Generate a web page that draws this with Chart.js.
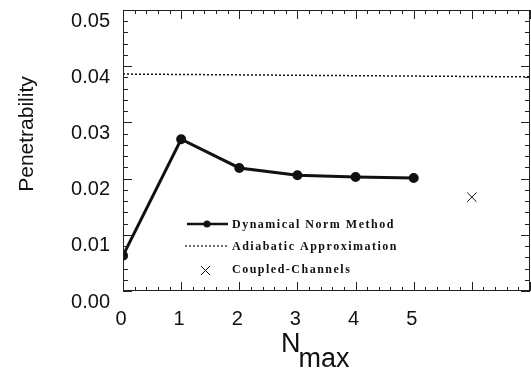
<!DOCTYPE html>
<html>
<head>
<meta charset="utf-8">
<script src="https://cdn.jsdelivr.net/npm/chart.js@4.4.0/dist/chart.umd.min.js"></script>
<style>
    html, body { margin: 0; padding: 0; background: #fff; }
    #wrap { width: 531px; height: 371px; }
</style>
</head>
<body>
<div id="wrap"><canvas id="chart1" width="531" height="371"></canvas></div>
<script>
// values
const nmax = [0, 1, 2, 3, 4, 5];
const dynamicalNorm = [0.0063, 0.0270, 0.0219, 0.0206, 0.0203, 0.0201];
const adiabaticX = [0, 7];
const adiabatic = [0.0386, 0.0381];
const coupledX = [6];
const coupled = [0.0167];
const xTickLabels = ['0', '1', '2', '3', '4', '5'];
const legendLabels = ['Dynamical Norm Method', 'Adiabatic Approximation', 'Coupled-Channels'];

const toPoints = (xs, ys) => xs.map((x, i) => ({ x: x, y: ys[i] }));

// no extra margin for edge labels, the plot box is fixed
function noPadding(scale) {
    scale.paddingTop = 0;
    scale.paddingBottom = 0;
    scale.paddingLeft = 0;
    scale.paddingRight = 0;
}

// inward minor/major ticks on all four sides plus the frame
const frameTicks = {
    id: 'frameTicks',
    afterDraw(chart) {
        const ctx = chart.ctx;
        const area = chart.chartArea;
        const xs = chart.scales.x;
        const ys = chart.scales.y;
        ctx.save();
        ctx.strokeStyle = '#222';
        ctx.lineWidth = 1;
        ctx.strokeRect(area.left + 0.5, area.top + 0.5, area.right - area.left - 1, area.bottom - area.top - 1);
        ctx.beginPath();
        for (let i = 0; i <= 35; i++) {
            const px = Math.round(xs.getPixelForValue(i * 0.2)) + 0.5;
            const len = i % 5 === 0 ? 9 : 4;
            ctx.moveTo(px, area.bottom);
            ctx.lineTo(px, area.bottom - len);
            ctx.moveTo(px, area.top);
            ctx.lineTo(px, area.top + len);
        }
        for (let i = 0; i <= 25; i++) {
            const py = Math.round(ys.getPixelForValue(i * 0.002)) + 0.5;
            const len = i % 5 === 0 ? 9 : 5;
            ctx.moveTo(area.left, py);
            ctx.lineTo(area.left + len, py);
            ctx.moveTo(area.right, py);
            ctx.lineTo(area.right - len, py);
        }
        ctx.stroke();
        ctx.restore();
    }
};

// legend inside the plot and axis titles
const labelsPlugin = {
    id: 'labelsPlugin',
    afterDraw(chart) {
        const ctx = chart.ctx;
        ctx.save();
        ctx.fillStyle = '#111';
        ctx.strokeStyle = '#111';

        // legend
        ctx.font = 'bold 12px "Liberation Serif"';
        ctx.letterSpacing = '1.5px';
        ctx.textBaseline = 'middle';
        ctx.textAlign = 'left';

        ctx.lineWidth = 2.5;
        ctx.beginPath();
        ctx.moveTo(187, 224);
        ctx.lineTo(228, 224);
        ctx.stroke();
        ctx.beginPath();
        ctx.arc(207, 224, 3.5, 0, Math.PI * 2);
        ctx.fill();
        ctx.fillText(legendLabels[0], 232, 225);

        ctx.lineWidth = 1.2;
        ctx.setLineDash([2, 2]);
        ctx.beginPath();
        ctx.moveTo(185, 246);
        ctx.lineTo(228, 246);
        ctx.stroke();
        ctx.setLineDash([]);
        ctx.fillText(legendLabels[1], 232, 247);

        ctx.lineWidth = 1;
        ctx.beginPath();
        ctx.moveTo(201, 266);
        ctx.lineTo(210, 275);
        ctx.moveTo(210, 266);
        ctx.lineTo(201, 275);
        ctx.stroke();
        ctx.fillText(legendLabels[2], 232, 270);

        // y title
        ctx.letterSpacing = '0px';
        ctx.font = '21px "Liberation Sans"';
        ctx.textBaseline = 'alphabetic';
        ctx.textAlign = 'center';
        ctx.save();
        ctx.translate(33, 134);
        ctx.rotate(-Math.PI / 2);
        ctx.fillText('Penetrability', 0, 0);
        ctx.restore();

        // x title N_max
        ctx.textAlign = 'left';
        ctx.font = '27px "Liberation Sans"';
        ctx.fillText('N', 281, 352);
        const nw = ctx.measureText('N').width;
        ctx.fillText('max', 281 + nw - 2, 367);
        ctx.restore();
    }
};

const ctx = document.getElementById('chart1').getContext('2d');
new Chart(ctx, {
    type: 'scatter',
    data: {
        datasets: [
            {
                label: legendLabels[0],
                data: toPoints(nmax, dynamicalNorm),
                showLine: true,
                borderColor: '#111',
                backgroundColor: '#111',
                borderWidth: 3,
                pointRadius: 3.5,
                tension: 0
            },
            {
                label: legendLabels[1],
                data: toPoints(adiabaticX, adiabatic),
                showLine: true,
                borderColor: '#111',
                borderWidth: 1.5,
                borderDash: [2, 2],
                pointRadius: 0
            },
            {
                label: legendLabels[2],
                data: toPoints(coupledX, coupled),
                pointStyle: 'crossRot',
                pointRadius: 6.5,
                borderColor: '#111',
                borderWidth: 1
            }
        ]
    },
    options: {
        responsive: false,
        animation: false,
        layout: { autoPadding: false, padding: { top: 10, right: 1, left: 0, bottom: 0 } },
        plugins: {
            legend: { display: false },
            tooltip: { enabled: false }
        },
        scales: {
            x: {
                type: 'linear',
                min: 0,
                max: 7,
                grid: { display: false, drawTicks: false },
                border: { display: false },
                ticks: {
                    stepSize: 1,
                    padding: 16,
                    labelOffset: -2,
                    color: '#111',
                    font: { family: 'Liberation Sans', size: 20 },
                    callback: v => xTickLabels[v] ?? ''
                },
                afterFit: scale => { scale.height = 80; noPadding(scale); }
            },
            y: {
                min: 0,
                max: 0.05,
                grid: { display: false, drawTicks: false },
                border: { display: false },
                ticks: {
                    stepSize: 0.01,
                    padding: 13,
                    labelOffset: 11,
                    color: '#111',
                    font: { family: 'Liberation Sans', size: 20 },
                    callback: v => v.toFixed(2)
                },
                afterFit: scale => { scale.width = 123; noPadding(scale); }
            }
        }
    },
    plugins: [frameTicks, labelsPlugin]
});
</script>
</body>
</html>
